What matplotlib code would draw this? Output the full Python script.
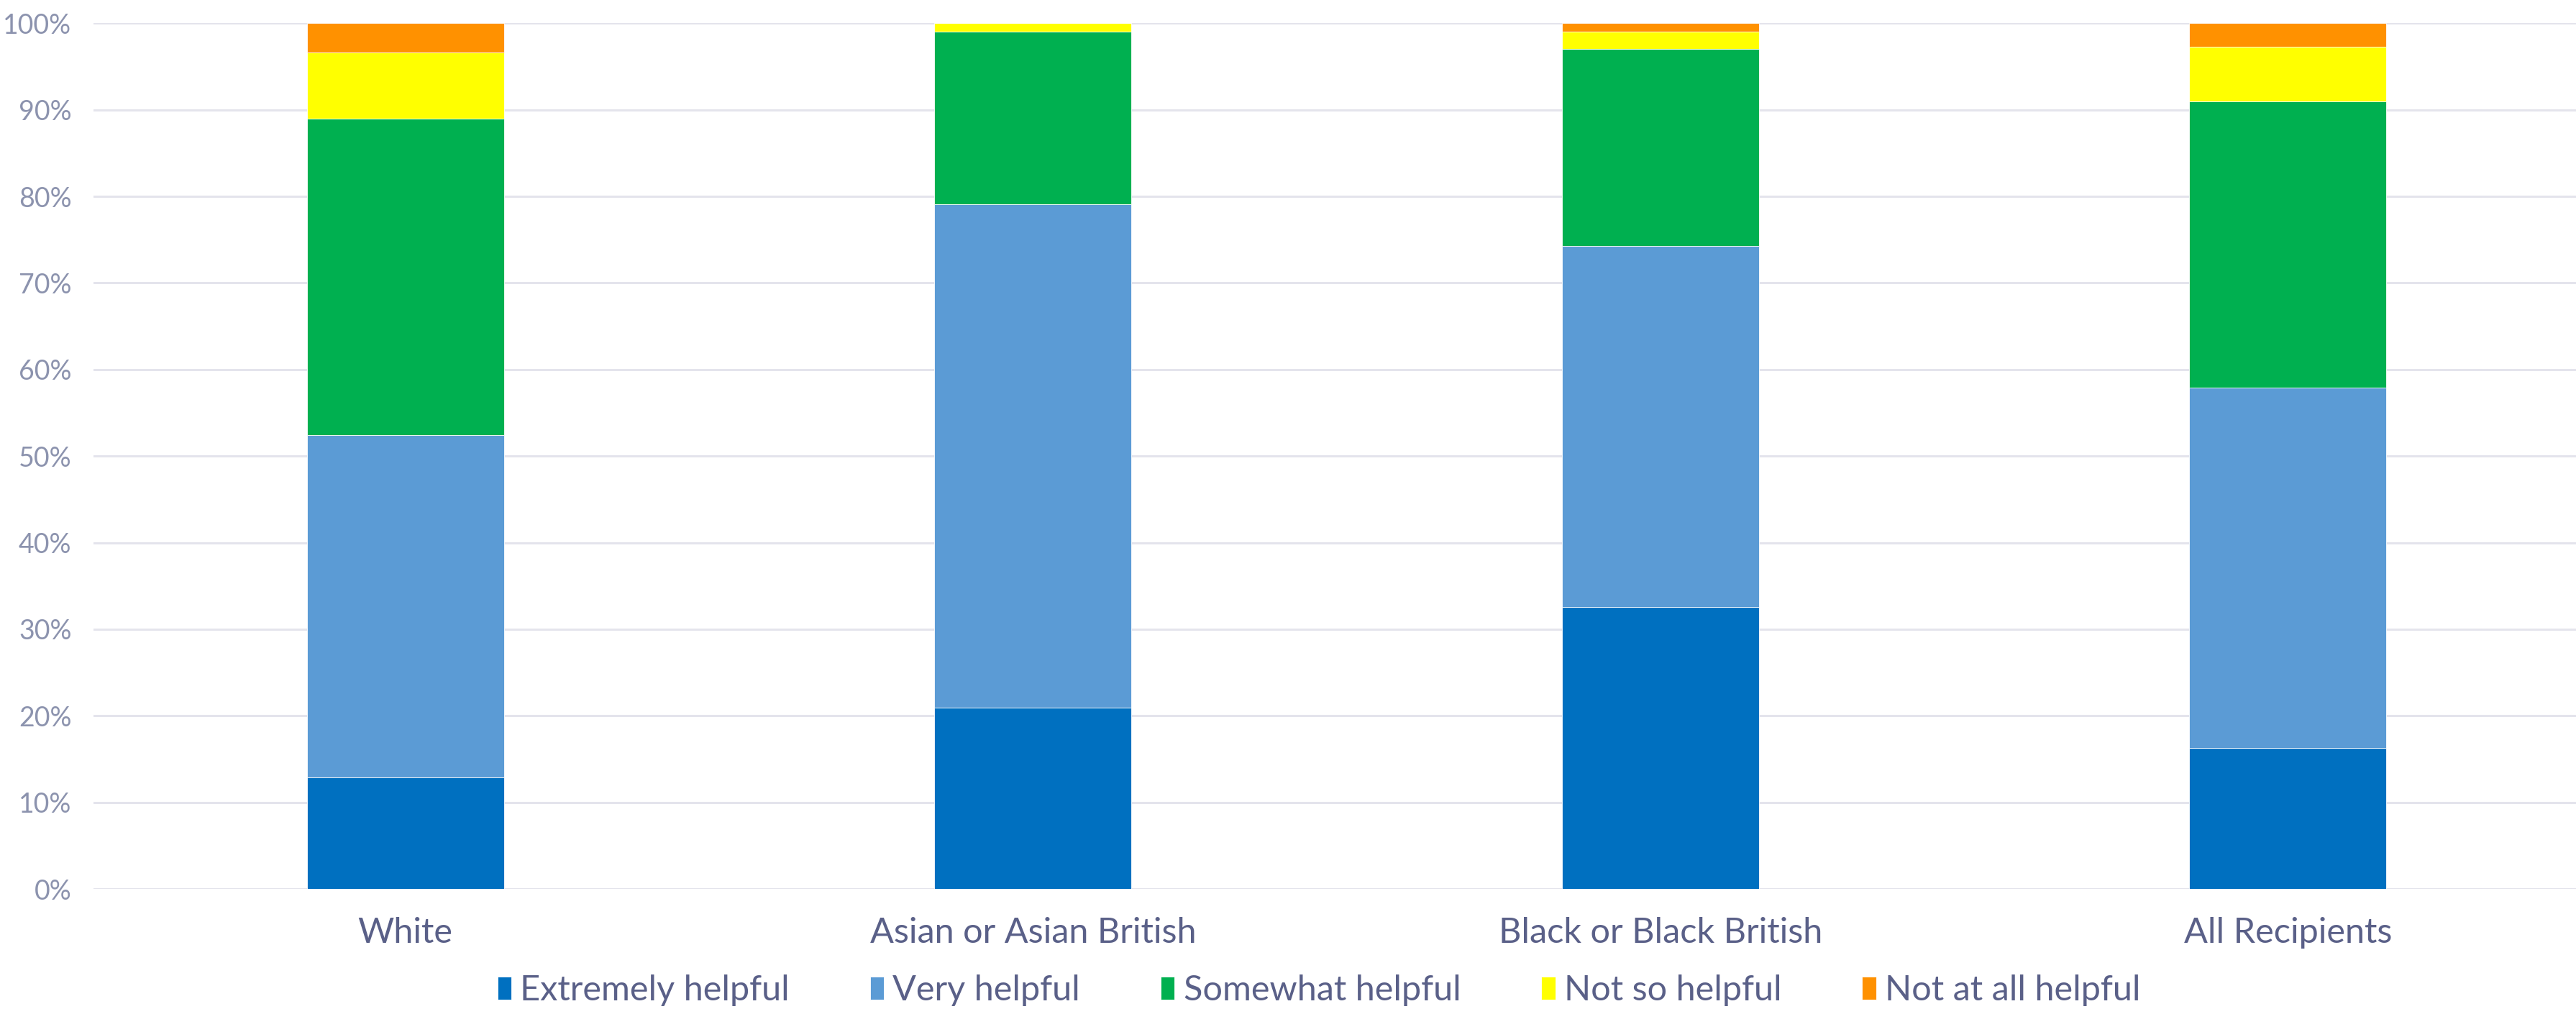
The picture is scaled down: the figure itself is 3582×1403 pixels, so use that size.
import matplotlib
matplotlib.use("Agg")
import matplotlib.pyplot as plt
import numpy as np

categories = ["White", "Asian or Asian British", "Black or Black British", "All Recipients"]
series_names = ["Extremely helpful", "Very helpful", "Somewhat helpful", "Not so helpful", "Not at all helpful"]
extremely = [12.9, 20.9, 32.6, 16.3]
very = [39.5, 58.2, 41.7, 41.6]
somewhat = [36.6, 19.95, 22.7, 33.1]
not_so = [7.6, 0.95, 2.06, 6.3]
not_at_all = [3.4, 0.0, 0.94, 2.7]
colors = ["#0070C0", "#5B9BD5", "#00B050", "#FFFF00", "#FF9100"]

plt.rcParams['font.family'] = ['Lato', 'DejaVu Sans']

fig = plt.figure(figsize=(35.82, 14.03), dpi=100)
ax = fig.add_axes([0.0363, 0.119, 0.9637, 0.858])

x = np.arange(len(categories))
bottom = np.zeros(len(categories))
handles = []
for name, vals, c in zip(series_names, [extremely, very, somewhat, not_so, not_at_all], colors):
    vals = np.array(vals)
    b = ax.bar(x, vals, 0.314, bottom=bottom, color=c, label=name, zorder=3,
               edgecolor='white', linewidth=0.6)
    handles.append(b)
    bottom += vals

ax.set_xlim(-0.497, 3.459)
ax.set_ylim(0, 100)
ax.set_yticks(np.arange(0, 101, 10))
ax.set_yticklabels([f"{v}%" for v in range(0, 101, 10)])
ax.yaxis.grid(True, color="#E4E4EC", linewidth=2.2, zorder=0)
ax.set_axisbelow(True)
for s in ax.spines.values():
    s.set_visible(False)
ax.tick_params(axis='y', length=0, pad=22, labelsize=27, labelcolor="#8C93AE")
ax.set_xticks(x)
ax.set_xticklabels(categories)
ax.tick_params(axis='x', length=0, pad=28, labelsize=35, labelcolor="#5A6088")

leg = fig.legend(handles=handles, labels=series_names, loc='center',
                 bbox_to_anchor=(0.512, 0.0185), ncol=5, frameon=False,
                 fontsize=35, handlelength=0.4, handleheight=0.65,
                 handletextpad=0.25, columnspacing=2.3)
for t in leg.get_texts():
    t.set_color("#5A6088")

fig.savefig("out.png", dpi=100, facecolor="white")
